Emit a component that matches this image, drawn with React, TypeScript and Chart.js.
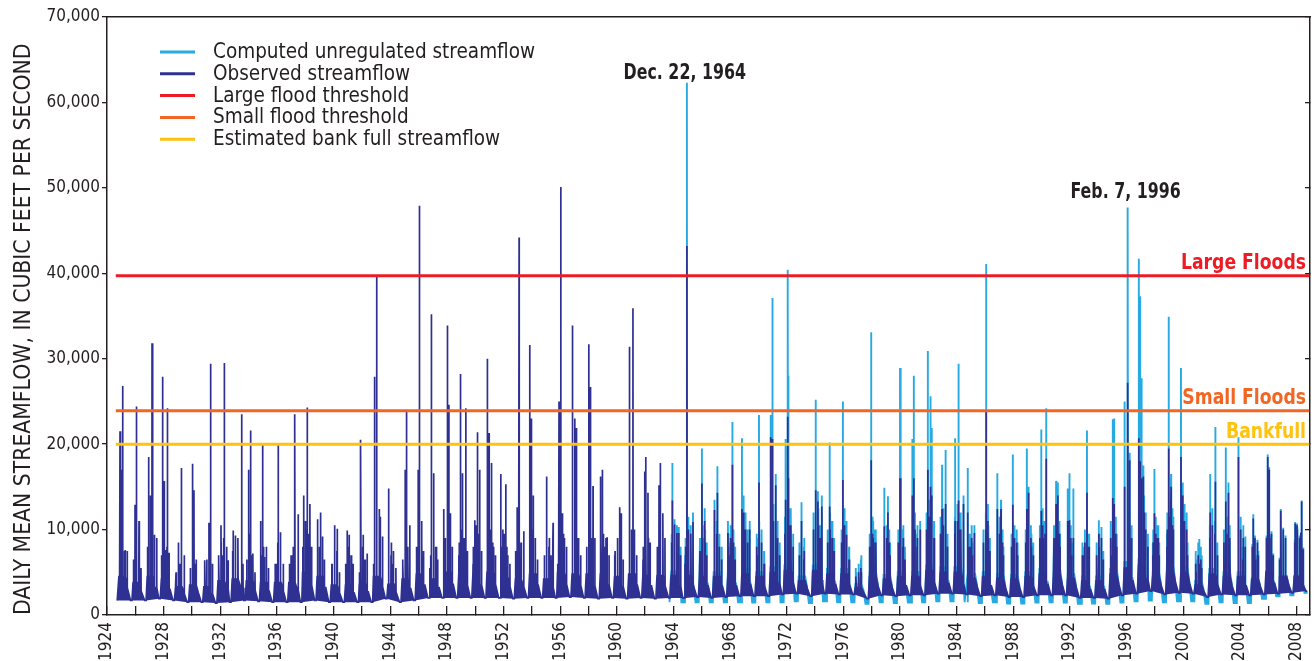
import { useEffect, useRef } from 'react';
import { Chart, registerables } from 'chart.js';

Chart.register(...registerables);

const FONT = "'DejaVu Sans Condensed', 'DejaVu Sans', sans-serif";
const INK = '#231f20';
const DARK_BLUE = '#2e3192';
const LIGHT_BLUE = '#27aae1';
const RED = '#ed1c24';
const ORANGE = '#f26522';
const YELLOW = '#ffc20e';

// ---- Observed streamflow, water years 1925-2008 ----
const firstObsYear = 1925;
// seasonal timing (fraction of calendar year) of: winter rise, end of winter, end of spring recession, start and end of summer low
const obsSeason = [-0.16, 0.3, 0.45, 0.66, 0.76];
// typical winter level between storm peaks (cfs)
const obsBase = [
  4500, 3800, 4500, 4200, 3300, 3500, 3300, 4000, 4200, 4000,
  3800, 3800, 3800, 5000, 4500, 3500, 3500, 3600, 4500, 3600,
  4200, 4800, 4200, 5000, 4800, 4800, 5000, 4500, 4200, 4800,
  4200, 5000, 4800, 4800, 4800, 4500, 4800, 4600, 4600, 4600,
  4600, 4500, 4500, 4500, 4800, 4500, 5000, 5200, 4000, 5200,
  4800, 4800, 3200, 4500, 4200, 4500, 4500, 5200, 5000, 5000,
  4300, 4500, 4300, 4200, 4500, 4800, 4800, 4300, 4000, 4000,
  4800, 5500, 5800, 4500, 5200, 5000, 3500, 4800, 4500, 4500,
  4200, 5000, 4500, 4500,
];
// level at the end of the spring recession (cfs)
const obsSpring = [
  3200, 2800, 3200, 3000, 2500, 2600, 2500, 3000, 3200, 2900,
  2800, 2800, 2900, 3500, 3200, 2600, 2600, 2700, 3300, 2700,
  3100, 3500, 3200, 3600, 3500, 3500, 3600, 3300, 3200, 3500,
  3200, 3600, 3500, 3400, 3500, 3300, 3500, 3400, 3400, 3400,
  3500, 3400, 3400, 3400, 3600, 3400, 3700, 3800, 3100, 3800,
  3600, 3600, 2600, 3400, 3200, 3400, 3400, 3800, 3700, 3700,
  3300, 3400, 3200, 3200, 3400, 3600, 3600, 3200, 3000, 3000,
  3600, 4000, 4200, 3400, 3800, 3700, 2800, 3600, 3400, 3400,
  3300, 3700, 3500, 3500,
];
// late-summer low flow (cfs)
const obsLow = [
  1700, 1700, 1900, 1700, 1500, 1500, 1400, 1500, 1700, 1600,
  1500, 1500, 1500, 1700, 1500, 1500, 1500, 1500, 1900, 1500,
  1700, 2000, 2000, 2000, 2000, 2000, 2000, 1900, 2000, 2000,
  2000, 2100, 2000, 1900, 2000, 1900, 2000, 1900, 2000, 2000,
  2100, 2000, 2100, 2200, 2200, 2200, 2400, 2500, 2200, 2500,
  2400, 2400, 1900, 2300, 2200, 2300, 2300, 2500, 2500, 2400,
  2200, 2300, 2100, 2100, 2300, 2300, 2300, 2000, 2000, 1900,
  2300, 2500, 2800, 2400, 2600, 2500, 2100, 2400, 2300, 2300,
  2400, 2500, 2600, 2800,
];
// smaller winter freshets: mid-Nov, late Jan, late Mar of each water year (cfs)
const minorPeakDates = [-0.125, 0.055, 0.235];
const obsMinor = [
  [6000, 9000, 7500], [5500, 7000, 6500], [7000, 8500, 9500], [7000, 9000, 8000], [5000, 6500, 7500],
  [5500, 9000, 6000], [5000, 6500, 7000], [7000, 8500, 9000], [7500, 8000, 9000], [6500, 9500, 7000],
  [7000, 8000, 6500], [6000, 8500, 7000], [5500, 7000, 9000], [9000, 10000, 9500], [8000, 9500, 8000],
  [6000, 8500, 7500], [6000, 8000, 7000], [5500, 8000, 6500], [8000, 10000, 9000], [6000, 7000, 7500],
  [6500, 9000, 8000], [8000, 9500, 8500], [7000, 9000, 8000], [9000, 10000, 9500], [8500, 10000, 9000],
  [8000, 10500, 9500], [9000, 10000, 8500], [8000, 9500, 8000], [7500, 9000, 8500], [8500, 10000, 9000],
  [7000, 8500, 9000], [8000, 10000, 9500], [8500, 9500, 9000], [8000, 10000, 9000], [8500, 9500, 9000],
  [7500, 9000, 8500], [8000, 10000, 8500], [8000, 9500, 9000], [8000, 9500, 8500], [8500, 9000, 8500],
  [8000, 9000, 8500], [7500, 9000, 8500], [7500, 9500, 8000], [8000, 9000, 8500], [9000, 10000, 8500],
  [8000, 9500, 8500], [9000, 11000, 10000], [9500, 11000, 10500], [7000, 8000, 7500], [10000, 11000, 10500],
  [8500, 10000, 9000], [8500, 10500, 9000], [4500, 5000, 5500], [8000, 9500, 8500], [8000, 9000, 8500],
  [8500, 10000, 9000], [9000, 10000, 9000], [10000, 11500, 10500], [9500, 10500, 10000], [9500, 11000, 10000],
  [8000, 9000, 8500], [8500, 10000, 9000], [8000, 9500, 8500], [8000, 9000, 8500], [8500, 10000, 9000],
  [9000, 10500, 9500], [9000, 10500, 9500], [8000, 9000, 8500], [7000, 8500, 8000], [7000, 8000, 7500],
  [9000, 10000, 9500], [10500, 12000, 11000], [11000, 13000, 12000], [8500, 9500, 9000], [10000, 11500, 10500],
  [9500, 11000, 10000], [6000, 7000, 6500], [9000, 10500, 9500], [8500, 9500, 9000], [8500, 10000, 9000],
  [8000, 9000, 8500], [9000, 10500, 9500], [8500, 9500, 9000], [8500, 10000, 9000],
];
// [decimal year, daily mean streamflow] storm peaks
const obsPeaks = [
  [1924.92, 21500], [1924.99, 17000], [1925.11, 26800], [1925.28, 7600], [1925.42, 7500],
  [1925.88, 6500], [1925.98, 12900], [1926.10, 24400], [1926.26, 11000], [1926.40, 5500],
  [1926.86, 8000], [1926.94, 18500], [1927.08, 14000], [1927.18, 31800], [1927.35, 9400], [1927.51, 9000],
  [1927.85, 6000], [1927.93, 27900], [1928.04, 15700], [1928.15, 7600], [1928.26, 24200], [1928.38, 7300],
  [1928.90, 5000], [1929.03, 8500], [1929.15, 6000], [1929.27, 17200], [1929.46, 7000],
  [1929.90, 5500], [1930.02, 17700], [1930.14, 14600], [1930.30, 6500],
  [1930.92, 6400], [1931.05, 5500], [1931.20, 10800], [1931.32, 29400], [1931.45, 6000],
  [1931.90, 6500], [1932.05, 10500], [1932.15, 7000], [1932.28, 29500], [1932.45, 8000], [1932.55, 6400],
  [1932.91, 9900], [1933.08, 9300], [1933.25, 8500], [1933.51, 23500], [1933.60, 6000],
  [1933.88, 6000], [1934.00, 17000], [1934.14, 21600], [1934.30, 7200], [1934.45, 5000],
  [1934.85, 11000], [1934.99, 19900], [1935.12, 6800], [1935.27, 8000], [1935.40, 5500],
  [1935.95, 6000], [1936.09, 19900], [1936.26, 9700], [1936.45, 6000],
  [1936.90, 6000], [1937.00, 7000], [1937.15, 8000], [1937.27, 23500], [1937.50, 11800],
  [1937.82, 8000], [1937.90, 14000], [1938.00, 11000], [1938.14, 24300], [1938.33, 13000], [1938.45, 8000],
  [1938.87, 11200], [1939.00, 8000], [1939.10, 12000], [1939.20, 9200], [1939.35, 6500],
  [1939.90, 6000], [1940.09, 10500], [1940.25, 10100], [1940.40, 5000],
  [1940.85, 5000], [1940.96, 9900], [1941.10, 9400], [1941.38, 6000],
  [1941.82, 5000], [1941.93, 20500], [1942.09, 9400], [1942.20, 6500], [1942.37, 7200],
  [1942.82, 6000], [1942.91, 27900], [1943.03, 39700], [1943.22, 12400], [1943.30, 11500], [1943.46, 9200],
  [1943.90, 14800], [1944.09, 8500], [1944.20, 6000], [1944.40, 5500],
  [1944.90, 6000], [1945.05, 17000], [1945.15, 23800], [1945.25, 7000], [1945.38, 10500],
  [1945.85, 6500], [1945.97, 17000], [1946.07, 47900], [1946.21, 11000], [1946.35, 7500],
  [1946.80, 5500], [1946.91, 35200], [1947.08, 16600], [1947.20, 8000], [1947.35, 6500],
  [1947.78, 12400], [1947.90, 9000], [1948.02, 33900], [1948.14, 24600], [1948.26, 11900], [1948.38, 8000],
  [1948.85, 7000], [1948.96, 28200], [1949.10, 16600], [1949.20, 9000], [1949.34, 24200], [1949.45, 7500],
  [1949.85, 6000], [1949.97, 11100], [1950.05, 9000], [1950.16, 21400], [1950.32, 17000], [1950.45, 7500],
  [1950.84, 30000], [1950.98, 21300], [1951.15, 17800], [1951.30, 8000], [1951.42, 7000],
  [1951.81, 16500], [1951.95, 10000], [1952.05, 8000], [1952.16, 15300], [1952.30, 7000], [1952.45, 6000],
  [1952.85, 6000], [1952.96, 12600], [1953.10, 44200], [1953.25, 7500], [1953.43, 9800],
  [1953.85, 31600], [1953.97, 23000], [1954.10, 14000], [1954.25, 9000], [1954.40, 6500],
  [1954.90, 6500], [1955.03, 16200], [1955.20, 8000], [1955.35, 7000], [1955.50, 10800],
  [1955.82, 6000], [1955.92, 25000], [1956.04, 50100], [1956.16, 11900], [1956.30, 9000], [1956.45, 8000],
  [1956.87, 33900], [1957.03, 23000], [1957.15, 21900], [1957.30, 9000], [1957.45, 7000],
  [1957.88, 7000], [1958.02, 31700], [1958.14, 26700], [1958.32, 15100], [1958.45, 9000],
  [1958.84, 16200], [1958.98, 17000], [1959.15, 8000], [1959.31, 9100], [1959.45, 7000],
  [1959.85, 7000], [1960.05, 8500], [1960.20, 12600], [1960.32, 11900], [1960.45, 6500],
  [1960.91, 31400], [1961.03, 9000], [1961.14, 35900], [1961.25, 10000], [1961.40, 7000],
  [1961.85, 6500], [1961.97, 16800], [1962.04, 18500], [1962.20, 14300], [1962.35, 8500],
  [1962.85, 6500], [1962.98, 15200], [1963.08, 17800], [1963.26, 11900], [1963.40, 9000],
  [1963.92, 13400], [1964.09, 10600], [1964.25, 9600], [1964.37, 9600], [1964.50, 7000],
  [1964.82, 6000], [1964.95, 43200], [1965.05, 10000], [1965.20, 9500], [1965.38, 10900],
  [1965.90, 6500], [1966.01, 15400], [1966.20, 11000], [1966.35, 7000],
  [1966.91, 12300], [1967.10, 14300], [1967.25, 8000], [1967.40, 6500],
  [1967.85, 9600], [1968.00, 7000], [1968.16, 17600], [1968.35, 6500],
  [1968.84, 12400], [1968.95, 12000], [1969.10, 9000], [1969.38, 10000],
  [1969.90, 7000], [1970.04, 15500], [1970.20, 8000], [1970.40, 6000],
  [1970.86, 20800], [1970.99, 20600], [1971.21, 15200], [1971.35, 9000], [1971.50, 7000],
  [1971.92, 13500], [1972.08, 23200], [1972.12, 16000], [1972.30, 10000], [1972.45, 8000],
  [1972.90, 6000], [1973.02, 11000], [1973.20, 6500],
  [1973.90, 9000], [1974.03, 14600], [1974.20, 13300], [1974.35, 9000], [1974.48, 12700],
  [1974.90, 7000], [1975.02, 12700], [1975.20, 9000], [1975.35, 7500],
  [1975.96, 15800], [1976.10, 8000], [1976.20, 9400], [1976.40, 6500],
  [1976.90, 4000], [1977.10, 4500], [1977.26, 5000],
  [1977.85, 6000], [1977.96, 18100], [1978.10, 9000], [1978.30, 8000],
  [1978.90, 10400], [1979.14, 12000], [1979.30, 7000],
  [1979.88, 7000], [1980.00, 16000], [1980.20, 8000], [1980.35, 6500],
  [1980.86, 14000], [1980.97, 16000], [1981.20, 8000], [1981.42, 10000],
  [1981.96, 17000], [1982.15, 15000], [1982.24, 14000], [1982.40, 9000],
  [1982.85, 9000], [1982.97, 12400], [1983.19, 13000], [1983.35, 8000],
  [1983.89, 11000], [1984.13, 13400], [1984.30, 9000], [1984.48, 13000],
  [1984.78, 12000], [1984.95, 8000], [1985.10, 7000], [1985.26, 9600],
  [1985.90, 8000], [1986.08, 23800], [1986.20, 11000], [1986.35, 7500],
  [1986.86, 12400], [1987.00, 8000], [1987.13, 12400], [1987.30, 7000],
  [1987.96, 12900], [1988.10, 8000], [1988.30, 7000],
  [1988.95, 12400], [1989.09, 14300], [1989.25, 8000], [1989.40, 7000],
  [1989.88, 7000], [1989.97, 12200], [1990.10, 9000], [1990.32, 18300],
  [1990.90, 7000], [1991.02, 13000], [1991.14, 14000], [1991.30, 8000],
  [1991.84, 11000], [1991.96, 11100], [1992.10, 7000], [1992.24, 9000],
  [1992.95, 7000], [1993.05, 6000], [1993.20, 14300], [1993.35, 8000],
  [1993.90, 6000], [1994.03, 9500], [1994.20, 9000], [1994.35, 6500],
  [1994.90, 7000], [1995.02, 13700], [1995.12, 13000], [1995.30, 8000],
  [1995.84, 15000], [1996.09, 27200], [1996.20, 18100], [1996.35, 9000],
  [1996.86, 20700], [1996.95, 18000], [1997.06, 16000], [1997.18, 16200], [1997.35, 10000], [1997.50, 8000],
  [1997.85, 7000], [1997.96, 11900], [1998.15, 9000], [1998.30, 7000],
  [1998.85, 8000], [1998.97, 19500], [1999.14, 15000], [1999.30, 10000],
  [1999.84, 18500], [1999.96, 14000], [2000.10, 9000], [2000.30, 7000],
  [2000.90, 5000], [2001.13, 6000], [2001.30, 5500],
  [2001.90, 12000], [2002.05, 9000], [2002.26, 15600], [2002.40, 7000],
  [2002.88, 6000], [2003.00, 13300], [2003.17, 14300], [2003.30, 7000],
  [2003.91, 18500], [2004.05, 9000], [2004.20, 6500], [2004.37, 8000],
  [2004.94, 11300], [2005.10, 6500], [2005.30, 7000],
  [2005.96, 18500], [2006.07, 17000], [2006.20, 9000], [2006.35, 7000],
  [2006.80, 6500], [2006.90, 12200], [2007.06, 10000], [2007.20, 8000],
  [2007.90, 10700], [2008.03, 10500], [2008.20, 7000], [2008.31, 9600], [2008.36, 13300], [2008.47, 7700],
];

// ---- Computed unregulated streamflow, water years 1964-2008 ----
const firstCompYear = 1964;
const compSeason = [-0.16, 0.3, 0.42, 0.56, 0.78];
const compBase = [
  5100, 5100, 5000, 5000, 5000, 5400, 5000, 5600, 5800, 4500,
  5800, 5400, 5400, 3600, 5000, 4700, 5000, 5000, 5800, 5600,
  5600, 4800, 5000, 4800, 4700, 5000, 5400, 5400, 4800, 4500,
  4500, 5400, 6200, 6500, 5000, 5800, 5600, 4000, 5400, 5000,
  5000, 4300, 5100, 4600, 4600,
];
const compSpring = [
  3700, 3800, 3700, 3700, 3700, 3900, 3700, 4000, 4100, 3400,
  4100, 3900, 3900, 2900, 3700, 3500, 3700, 3700, 4100, 4000,
  4000, 3600, 3700, 3500, 3500, 3700, 3900, 3900, 3500, 3300,
  3300, 3900, 4300, 4500, 3700, 4100, 4000, 3100, 3900, 3700,
  3700, 3500, 3900, 3700, 3700,
];
const compLow = [
  1500, 1500, 1500, 1500, 1500, 1450, 1500, 1500, 1600, 1400,
  1600, 1500, 1500, 1300, 1500, 1400, 1450, 1500, 1600, 1600,
  1500, 1400, 1500, 1350, 1350, 1450, 1500, 1450, 1300, 1350,
  1300, 1450, 1600, 1700, 1500, 1600, 1600, 1300, 1500, 1400,
  1400, 1900, 2200, 2300, 2600,
];
const compMinor = [
  [9500, 10500, 9500], [9000, 10500, 9500], [9000, 10500, 10000], [9000, 11000, 9500], [9500, 10500, 10000],
  [10500, 12000, 10000], [9500, 11000, 10000], [11000, 13000, 12000], [11500, 13000, 12500], [8500, 9500, 9000],
  [12000, 13500, 12500], [10000, 12000, 10500], [10000, 12500, 10500], [5500, 6000, 6500], [9500, 11500, 10000],
  [9500, 10500, 10000], [10000, 12000, 10500], [10500, 12000, 10500], [12000, 13500, 12500], [11500, 12500, 12000],
  [11500, 13000, 12000], [9500, 10500, 10000], [10000, 12000, 10500], [9500, 11500, 10000], [9500, 10500, 10000],
  [10000, 12000, 10500], [10500, 12500, 11000], [10500, 12500, 11000], [9500, 10500, 10000], [8500, 10000, 9500],
  [8500, 9500, 9000], [11000, 12000, 11500], [12500, 14000, 13000], [13000, 15500, 14000], [10000, 11500, 10500],
  [12000, 13500, 12500], [11500, 13000, 12000], [7500, 8500, 8000], [10500, 12500, 11000], [10000, 11500, 10500],
  [10000, 11500, 10500], [8300, 9300, 8800], [9300, 10800, 9800], [8800, 9800, 9300], [8800, 10300, 9300],
];
const compPeaks = [
  [1963.92, 17800], [1964.09, 11200], [1964.25, 10500], [1964.37, 10300], [1964.50, 8000],
  [1964.82, 7000], [1964.95, 62300], [1965.05, 11500], [1965.20, 10500], [1965.38, 12000],
  [1965.90, 8000], [1966.01, 19500], [1966.20, 12500], [1966.35, 8500],
  [1966.91, 13500], [1967.10, 17400], [1967.25, 9500], [1967.40, 8000],
  [1967.85, 11000], [1968.00, 8500], [1968.16, 22600], [1968.35, 8000],
  [1968.84, 20700], [1968.95, 14000], [1969.10, 11000], [1969.38, 11000],
  [1969.90, 9000], [1970.04, 23400], [1970.20, 10000], [1970.40, 7500],
  [1970.86, 23400], [1970.99, 37100], [1971.21, 16500], [1971.35, 11000], [1971.50, 8500],
  [1971.92, 20600], [1972.08, 40400], [1972.12, 28000], [1972.30, 12000], [1972.45, 9500],
  [1972.90, 7000], [1973.02, 13200], [1973.20, 8000],
  [1973.90, 11000], [1974.03, 25200], [1974.20, 14500], [1974.35, 10500], [1974.48, 14000],
  [1974.90, 8500], [1975.02, 20200], [1975.20, 11000], [1975.35, 9000],
  [1975.96, 25000], [1976.10, 9500], [1976.20, 11000], [1976.40, 8000],
  [1976.90, 5000], [1977.10, 5500], [1977.26, 7000],
  [1977.85, 7500], [1977.96, 33100], [1978.10, 11000], [1978.30, 9500],
  [1978.90, 14900], [1979.14, 13900], [1979.30, 8500],
  [1979.88, 8500], [1980.00, 28900], [1980.20, 10000], [1980.35, 8000],
  [1980.86, 20600], [1980.97, 28000], [1981.20, 9500], [1981.42, 11000],
  [1981.96, 30900], [1982.15, 25600], [1982.24, 21900], [1982.40, 11000],
  [1982.85, 11000], [1982.97, 17600], [1983.19, 19300], [1983.35, 9500],
  [1983.89, 20700], [1984.13, 29400], [1984.30, 11000], [1984.48, 14000],
  [1984.78, 17200], [1984.95, 9500], [1985.10, 8500], [1985.26, 10500],
  [1985.90, 9500], [1986.08, 41100], [1986.20, 13000], [1986.35, 9000],
  [1986.86, 16600], [1987.00, 9500], [1987.13, 13500], [1987.30, 8000],
  [1987.96, 18800], [1988.10, 9500], [1988.30, 8500],
  [1988.95, 19500], [1989.09, 15000], [1989.25, 9500], [1989.40, 8500],
  [1989.88, 8500], [1989.97, 21700], [1990.10, 11000], [1990.32, 24200],
  [1990.90, 8500], [1991.02, 15700], [1991.14, 15500], [1991.30, 9500],
  [1991.84, 14800], [1991.96, 16600], [1992.10, 8500], [1992.24, 14800],
  [1992.95, 8000], [1993.05, 7000], [1993.20, 21600], [1993.35, 9500],
  [1993.90, 7000], [1994.03, 11100], [1994.20, 10300], [1994.35, 7500],
  [1994.90, 8500], [1995.02, 22900], [1995.12, 23000], [1995.30, 9500],
  [1995.84, 25000], [1996.09, 47700], [1996.20, 19000], [1996.35, 10500],
  [1996.86, 41700], [1996.95, 37300], [1997.06, 27700], [1997.18, 17500], [1997.35, 12000], [1997.50, 9500],
  [1997.85, 8500], [1997.96, 17100], [1998.15, 10500], [1998.30, 8500],
  [1998.85, 9500], [1998.97, 34900], [1999.14, 16500], [1999.30, 11500],
  [1999.84, 28900], [1999.96, 15500], [2000.10, 10500], [2000.30, 8500],
  [2000.90, 6500], [2001.13, 8900], [2001.30, 7000],
  [2001.90, 16500], [2002.05, 10500], [2002.26, 22000], [2002.40, 8500],
  [2002.88, 7000], [2003.00, 19600], [2003.17, 15500], [2003.30, 8500],
  [2003.91, 20800], [2004.05, 10500], [2004.20, 8000], [2004.37, 9200],
  [2004.94, 11800], [2005.10, 7000], [2005.30, 7500],
  [2005.96, 18800], [2006.07, 17300], [2006.20, 9300], [2006.35, 7200],
  [2006.80, 6700], [2006.90, 12400], [2007.06, 10200], [2007.20, 8200],
  [2007.90, 10900], [2008.03, 10700], [2008.20, 7200], [2008.31, 9700], [2008.36, 13400], [2008.47, 7900],
];

// ---- thresholds and notes ----
const largeFloodThreshold = 39700;
const smallFloodThreshold = 23900;
const bankfullFlow = 20000;
const thresholdSpan = [1924.62, 2008.9];
const peakNotes = [
  { text: 'Dec. 22, 1964', year: 1964.8, flow: 62800 },
  { text: 'Feb. 7, 1996', year: 1995.93, flow: 48800 },
];
const thresholdNotes = [
  { text: 'Large Floods', flow: largeFloodThreshold, color: RED },
  { text: 'Small Floods', flow: smallFloodThreshold, color: ORANGE },
  { text: 'Bankfull', flow: bankfullFlow, color: YELLOW },
];
const yearTicksStep = 2;
const yearLabelStep = 4;
const xMin = 1924;
const xMax = 2008.95;
const yMax = 70000;
const yStep = 10000;
const yTitle = 'DAILY MEAN STREAMFLOW, IN CUBIC FEET PER SECOND';

type Pt = { x: number; y: number };

function buildSeries(
  firstWY: number,
  season: number[],
  base: number[],
  spring: number[],
  low: number[],
  minor: number[][],
  peaks: number[][],
) {
  const [rise, winterEnd, springEnd, lowStart, lowEnd] = season;
  const pts: Pt[] = [{ x: firstWY - 1 + 0.72, y: low[0] }];
  const events: number[][] = peaks.slice();
  minor.forEach((vals, i) => {
    vals.forEach((v, k) => events.push([firstWY + i + minorPeakDates[k], v]));
  });
  base.forEach((b, i) => {
    const wy = firstWY + i;
    pts.push({ x: wy + rise, y: b });
    pts.push({ x: wy + winterEnd, y: b });
    pts.push({ x: wy + springEnd, y: spring[i] });
    pts.push({ x: wy + lowStart, y: low[i] });
    pts.push({ x: wy + lowEnd, y: low[i] });
  });
  events.forEach(([d, v]) => {
    const wy = Math.floor(d + 0.25);
    const i = Math.max(0, Math.min(base.length - 1, wy - firstWY));
    const trough = d > wy + winterEnd ? spring[i] : base[i];
    pts.push({ x: d - 0.007, y: trough }, { x: d, y: v }, { x: d + 0.01, y: trough });
  });
  pts.sort((a, c) => a.x - c.x);
  return pts;
}

function buildEnvelope(firstWY: number, season: number[], low: number[]) {
  const pts: Pt[] = [{ x: firstWY - 1 + 0.72, y: low[0] }];
  low.forEach((l, i) => {
    const wy = firstWY + i;
    pts.push({ x: wy + season[3], y: l });
    pts.push({ x: wy + season[4], y: l });
  });
  return pts;
}

const hLine = (v: number) => [
  { x: thresholdSpan[0], y: v },
  { x: thresholdSpan[1], y: v },
];

function condensedText(ctx: any, text: string, x: number, y: number, align: string, squeeze: number) {
  ctx.save();
  ctx.translate(x, y);
  ctx.scale(squeeze, 1);
  ctx.textAlign = align;
  ctx.fillText(text, 0, 0);
  ctx.restore();
}

const legendPlugin = {
  id: 'insetLegend',
  afterDatasetsDraw(chart: any) {
    const { ctx, chartArea } = chart;
    ctx.save();
    ctx.font = `20.5px ${FONT}`;
    ctx.textAlign = 'left';
    ctx.textBaseline = 'alphabetic';
    let row = 0;
    chart.data.datasets.forEach((ds: any) => {
      if (!ds.label) return;
      const y = chartArea.top + 35 + row * 21.8;
      ctx.strokeStyle = ds.borderColor;
      ctx.lineWidth = 3;
      ctx.beginPath();
      ctx.moveTo(chartArea.left + 53, y);
      ctx.lineTo(chartArea.left + 88, y);
      ctx.stroke();
      ctx.fillStyle = INK;
      ctx.fillText(ds.label, chartArea.left + 106, y + 6);
      row += 1;
    });
    ctx.restore();
  },
};

const notesPlugin = {
  id: 'notes',
  afterDatasetsDraw(chart: any) {
    const { ctx, chartArea } = chart;
    const xs = chart.scales.x;
    const ys = chart.scales.y;
    ctx.save();
    ctx.font = `bold 22px ${FONT}`;
    ctx.textBaseline = 'alphabetic';
    ctx.fillStyle = INK;
    peakNotes.forEach((n) =>
      condensedText(ctx, n.text, xs.getPixelForValue(n.year), ys.getPixelForValue(n.flow), 'center', 0.8),
    );
    thresholdNotes.forEach((n) => {
      ctx.fillStyle = n.color;
      condensedText(ctx, n.text, chartArea.right - 4, ys.getPixelForValue(n.flow) - 6.5, 'right', 0.87);
    });
    ctx.restore();
  },
};

export default function App() {
  const ref = useRef<HTMLCanvasElement | null>(null);

  useEffect(() => {
    if (!ref.current) return;
    const obsSeries = buildSeries(firstObsYear, obsSeason, obsBase, obsSpring, obsLow, obsMinor, obsPeaks);
    const compSeries = buildSeries(firstCompYear, compSeason, compBase, compSpring, compLow, compMinor, compPeaks);
    const obsEnvelope = buildEnvelope(firstObsYear, obsSeason, obsLow);
    const tickFont = { family: FONT, size: 17 };

    const chart = new Chart(ref.current, {
      type: 'line',
      data: {
        datasets: [
          {
            label: 'Computed unregulated streamflow',
            data: compSeries,
            borderColor: LIGHT_BLUE,
            backgroundColor: LIGHT_BLUE,
            borderWidth: 1.9,
            pointRadius: 0,
            tension: 0,
            fill: { target: 1 },
            order: 3,
          },
          {
            label: 'Observed streamflow',
            data: obsSeries,
            borderColor: DARK_BLUE,
            backgroundColor: DARK_BLUE,
            borderWidth: 1.7,
            pointRadius: 0,
            tension: 0,
            fill: { target: 5 },
            order: 2,
          },
          {
            label: 'Large flood threshold',
            data: hLine(largeFloodThreshold),
            borderColor: RED,
            borderWidth: 3,
            pointRadius: 0,
            fill: false,
            order: 0,
          },
          {
            label: 'Small flood threshold',
            data: hLine(smallFloodThreshold),
            borderColor: ORANGE,
            borderWidth: 3,
            pointRadius: 0,
            fill: false,
            order: 0,
          },
          {
            label: 'Estimated bank full streamflow',
            data: hLine(bankfullFlow),
            borderColor: YELLOW,
            borderWidth: 3,
            pointRadius: 0,
            fill: false,
            order: 0,
          },
          {
            label: '',
            data: obsEnvelope,
            borderColor: 'rgba(0,0,0,0)',
            borderWidth: 0,
            pointRadius: 0,
            fill: false,
            order: 5,
          },
        ],
      },
      options: {
        responsive: false,
        animation: false,
        devicePixelRatio: 1,
        parsing: false,
        normalized: true,
        events: [],
        layout: { padding: { top: 17, right: 5, left: 0, bottom: 0 } },
        plugins: {
          legend: { display: false },
          tooltip: { enabled: false },
          title: { display: false },
        },
        scales: {
          x: {
            type: 'linear',
            position: 'bottom',
            min: xMin,
            max: xMax,
            afterFit: (s: any) => {
              s.height = 46;
              s.paddingLeft = 0;
              s.paddingRight = 0;
            },
            grid: { display: true, drawOnChartArea: false, drawTicks: true, tickLength: -9, color: INK, lineWidth: 1.3 },
            border: { display: true, color: INK, width: 1.5 },
            ticks: {
              stepSize: yearTicksStep,
              autoSkip: false,
              includeBounds: false,
              minRotation: 90,
              maxRotation: 90,
              padding: 16,
              color: INK,
              font: tickFont,
              callback: (v: any) => (Number(v) % yearLabelStep === 0 ? String(v) : ''),
            },
          },
          xTop: {
            type: 'linear',
            position: 'top',
            min: xMin,
            max: xMax,
            afterFit: (s: any) => {
              s.height = 0;
              s.paddingLeft = 0;
              s.paddingRight = 0;
            },
            grid: { display: false },
            border: { display: true, color: INK, width: 1.5 },
            ticks: { display: false },
          },
          y: {
            type: 'linear',
            position: 'left',
            min: 0,
            max: yMax,
            afterFit: (s: any) => {
              s.width = 107;
            },
            grid: { display: true, drawOnChartArea: false, tickLength: 5, color: INK, lineWidth: 1.3 },
            border: { display: true, color: INK, width: 1.5 },
            ticks: {
              stepSize: yStep,
              padding: 2,
              color: INK,
              font: tickFont,
              callback: (v: any) => Number(v).toLocaleString('en-US'),
            },
            title: {
              display: true,
              text: yTitle,
              align: 'start',
              color: INK,
              font: { family: FONT, size: 22.7 },
              padding: { top: 10, bottom: 0 },
            },
          },
          yRight: {
            type: 'linear',
            position: 'right',
            min: 0,
            max: yMax,
            afterFit: (s: any) => {
              s.width = 0;
            },
            grid: { display: true, drawOnChartArea: false, tickLength: -5, color: INK, lineWidth: 1.3 },
            border: { display: true, color: INK, width: 1.5 },
            ticks: { stepSize: yStep, padding: 0, callback: () => '' },
          },
        },
      },
      plugins: [legendPlugin, notesPlugin],
    } as any);

    return () => chart.destroy();
  }, []);

  return (
    <div style={{ position: 'absolute', left: 0, top: 0, width: 1315, height: 661, background: '#fff' }}>
      <canvas ref={ref} width={1315} height={661} style={{ display: 'block' }} />
    </div>
  );
}
